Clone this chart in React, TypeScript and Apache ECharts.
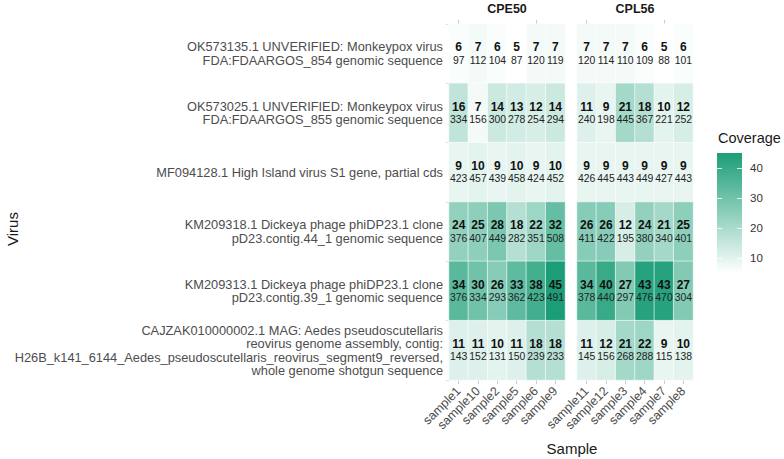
import React, { useEffect, useRef } from "react";
import * as echarts from "echarts";

const virusLabels = [
  "OK573135.1 UNVERIFIED: Monkeypox virus\nFDA:FDAARGOS_854 genomic sequence",
  "OK573025.1 UNVERIFIED: Monkeypox virus\nFDA:FDAARGOS_855 genomic sequence",
  "MF094128.1 High Island virus S1 gene, partial cds",
  "KM209318.1 Dickeya phage phiDP23.1 clone\npD23.contig.44_1 genomic sequence",
  "KM209313.1 Dickeya phage phiDP23.1 clone\npD23.contig.39_1 genomic sequence",
  "CAJZAK010000002.1 MAG: Aedes pseudoscutellaris\nreovirus genome assembly, contig:\nH26B_k141_6144_Aedes_pseudoscutellaris_reovirus_segment9_reversed,\nwhole genome shotgun sequence",
];

const panelNames = ["CPE50", "CPL56"];
const cpe50Samples = ["sample1", "sample10", "sample2", "sample5", "sample6", "sample9"];
const cpl56Samples = ["sample11", "sample12", "sample3", "sample4", "sample7", "sample8"];

// coverage (bold) per virus row, per sample column
const cpe50Coverage = [
  [6, 7, 6, 5, 7, 7],
  [16, 7, 14, 13, 12, 14],
  [9, 10, 9, 10, 9, 10],
  [24, 25, 28, 18, 22, 32],
  [34, 30, 26, 33, 38, 45],
  [11, 11, 10, 11, 18, 18],
];
const cpe50Reads = [
  [97, 112, 104, 87, 120, 119],
  [334, 156, 300, 278, 254, 294],
  [423, 457, 439, 458, 424, 452],
  [376, 407, 449, 282, 351, 508],
  [376, 334, 293, 362, 423, 491],
  [143, 152, 131, 150, 239, 233],
];
const cpl56Coverage = [
  [7, 7, 7, 6, 5, 6],
  [11, 9, 21, 18, 10, 12],
  [9, 9, 9, 9, 9, 9],
  [26, 26, 12, 24, 21, 25],
  [34, 40, 27, 43, 43, 27],
  [11, 12, 21, 22, 9, 10],
];
const cpl56Reads = [
  [120, 114, 110, 109, 88, 101],
  [240, 198, 445, 367, 221, 252],
  [426, 445, 443, 449, 427, 443],
  [411, 422, 195, 380, 340, 401],
  [378, 440, 297, 476, 470, 304],
  [145, 156, 268, 288, 115, 138],
];

const legendTicks = [10, 20, 30, 40];
const coverageMin = 5;
const coverageMax = 45;
const lowColor = "#ffffff";
const highColor = "#1b9e77";

const FONT = "Liberation Sans, Arial, Helvetica, sans-serif";

function buildData(cov: number[][], reads: number[][]) {
  const out: any[] = [];
  cov.forEach((row, r) =>
    row.forEach((v, c) => {
      out.push({ value: [c, r, v], reads: reads[r][c] });
    })
  );
  return out;
}

export default function App() {
  const ref = useRef<HTMLDivElement>(null);
  useEffect(() => {
    if (!ref.current) return;
    const chart = echarts.init(ref.current, null, { renderer: "svg" });
    const panels = [
      { samples: cpe50Samples, data: buildData(cpe50Coverage, cpe50Reads) },
      { samples: cpl56Samples, data: buildData(cpl56Coverage, cpl56Reads) },
    ];
    const tickStyle = { show: true, length: 4, alignWithLabel: true, lineStyle: { color: "#cccccc" } };
    const xAxes: any[] = [];
    const yAxes: any[] = [];
    panels.forEach((p, i) => {
      xAxes.push({
        type: "category",
        gridIndex: i,
        data: p.samples,
        position: "bottom",
        axisLine: { show: false },
        axisTick: tickStyle,
        axisLabel: { interval: 0, rotate: 45, fontSize: 12.5, color: "#4d4d4d", margin: 9, fontFamily: FONT },
        splitLine: { show: false },
      });
      xAxes.push({
        type: "category",
        gridIndex: i,
        data: p.samples,
        position: "top",
        axisLine: { show: false },
        axisTick: tickStyle,
        axisLabel: { show: false },
        name: panelNames[i],
        nameLocation: "middle",
        nameGap: 9,
        nameTextStyle: { fontSize: 12.5, fontWeight: "bold", color: "#1a1a1a", fontFamily: FONT },
      });
      yAxes.push({
        type: "category",
        gridIndex: i,
        data: virusLabels,
        inverse: true,
        axisLine: { show: false },
        axisTick: { show: i === 0, length: 3, lineStyle: { color: "#dddddd" } },
        axisLabel: {
          show: i === 0,
          interval: 0,
          fontSize: 12.8,
          lineHeight: 13.5,
          color: "#4d4d4d",
          align: "right",
          margin: 6,
          fontFamily: FONT,
        },
        splitLine: { show: false },
      });
    });
    // legend axis
    xAxes.push({ type: "category", gridIndex: 2, data: [""], show: false });
    yAxes.push({
      type: "value",
      gridIndex: 2,
      min: coverageMin,
      max: coverageMax,
      position: "right",
      z: 5,
      axisLine: { show: false },
      splitLine: { show: false },
      axisTick: { show: true, inside: true, length: 5, customValues: legendTicks, lineStyle: { color: "#ffffff", opacity: 0.8 } },
      axisLabel: { customValues: legendTicks, fontSize: 11.5, color: "#333333", margin: 8, fontFamily: FONT },
    });
    yAxes.push({
      type: "value",
      gridIndex: 2,
      min: coverageMin,
      max: coverageMax,
      position: "left",
      z: 5,
      axisLine: { show: false },
      splitLine: { show: false },
      axisTick: { show: true, inside: true, length: 5, customValues: legendTicks, lineStyle: { color: "#ffffff", opacity: 0.8 } },
      axisLabel: { show: false },
    });

    const series: any[] = panels.map((p, i) => ({
      type: "heatmap",
      xAxisIndex: i * 2,
      yAxisIndex: i,
      data: p.data,
      itemStyle: { borderColor: "#ffffff", borderWidth: 0.6 },
      label: {
        show: true,
        formatter: (params: any) => `{b|${params.value[2]}}\n{n|${params.data.reads}}`,
        rich: {
          b: { fontSize: 12, fontWeight: "bold", color: "#111111", lineHeight: 13, fontFamily: FONT },
          n: { fontSize: 10.4, color: "#222222", lineHeight: 13, fontFamily: FONT },
        },
      },
      emphasis: { disabled: true },
    }));

    chart.setOption({
      animation: false,
      textStyle: { fontFamily: FONT },
      grid: [
        { left: 449, top: 24, width: 116, height: 356, outerBoundsMode: "none", containLabel: false },
        { left: 577, top: 24, width: 116, height: 356, outerBoundsMode: "none", containLabel: false },
        { left: 717, top: 153, width: 25, height: 120, outerBoundsMode: "none", containLabel: false },
      ],
      xAxis: xAxes,
      yAxis: yAxes,
      visualMap: {
        type: "continuous",
        show: false,
        min: coverageMin,
        max: coverageMax,
        dimension: 2,
        seriesIndex: [0, 1],
        inRange: { color: [lowColor, highColor] },
      },
      graphic: [
        {
          type: "rect",
          z: -10,
          shape: { x: 717, y: 153, width: 25, height: 120 },
          style: {
            fill: {
              type: "linear",
              x: 0,
              y: 0,
              x2: 0,
              y2: 1,
              colorStops: [
                { offset: 0, color: highColor },
                { offset: 1, color: lowColor },
              ],
            },
          },
        },
        {
          type: "text",
          x: 718,
          y: 138,
          style: { text: "Coverage", fontSize: 14.5, fill: "#1a1a1a", fontFamily: FONT, verticalAlign: "middle" },
        },
        {
          type: "text",
          x: 572,
          y: 448,
          style: { text: "Sample", fontSize: 15, fill: "#1a1a1a", fontFamily: FONT, align: "center", verticalAlign: "middle" },
        },
        {
          type: "text",
          x: 12,
          y: 229,
          rotation: Math.PI / 2,
          style: { text: "Virus", fontSize: 15, fill: "#1a1a1a", fontFamily: FONT, align: "center", verticalAlign: "middle" },
        },
      ],
      series,
    });
    return () => chart.dispose();
  }, []);
  return (
    <div
      ref={ref}
      style={{ position: "fixed", left: 0, top: 0, width: 784, height: 459, background: "#ffffff" }}
    />
  );
}
